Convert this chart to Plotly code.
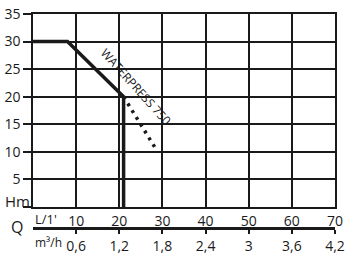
import plotly.graph_objects as go

# Data
flow_lmin = [0, 8, 21, 21]
head_m = [30, 30, 20, 0]
dot_flow = [21, 28.5]
dot_head = [20, 10.5]

x_ticks = [10, 20, 30, 40, 50, 60, 70]
x_tick_labels = ["10", "20", "30", "40", "50", "60", "70"]
y_ticks = [0, 5, 10, 15, 20, 25, 30, 35]
y_tick_labels = ["", "5", "10", "15", "20", "25", "30", "35"]
m3h_ticks = [0.6, 1.2, 1.8, 2.4, 3.0, 3.6, 4.2]
m3h_labels = ["0,6", "1,2", "1,8", "2,4", "3", "3,6", "4,2"]

FONT = "Open Sans"
INK = "#1a1a1a"

fig = go.Figure()
fig.add_trace(go.Scatter(x=flow_lmin, y=head_m, mode="lines",
                         line=dict(color=INK, width=3.5), hoverinfo="skip"))
fig.add_trace(go.Scatter(x=dot_flow, y=dot_head, mode="lines",
                         line=dict(color=INK, width=3.5, dash="3px,5px"), hoverinfo="skip"))
fig.add_trace(go.Scatter(x=m3h_ticks, y=[None] * len(m3h_ticks), xaxis="x2", yaxis="y",
                         mode="lines", showlegend=False, hoverinfo="skip"))

H = 256
t, b = 14, 20
ph = H - t - b
def py(p):
    return (H - b - p) / ph

fig.update_layout(
    width=352, height=256,
    margin=dict(l=33, r=17, t=t, b=b, autoexpand=False),
    paper_bgcolor="white", plot_bgcolor="white",
    showlegend=False,
    font=dict(family=FONT, color=INK, size=14),
    xaxis=dict(range=[0, 70], tickvals=x_ticks, ticktext=x_tick_labels,
               showgrid=True, gridcolor=INK, gridwidth=1.5,
               showline=True, linecolor=INK, linewidth=1.5, mirror=True,
               ticks="", zeroline=False, anchor="y", automargin=False,
               ticklabelstandoff=0,
               tickfont=dict(size=14, family=FONT)),
    xaxis2=dict(range=[0, 4.2], tickvals=m3h_ticks, ticktext=m3h_labels,
                overlaying="x", anchor="free", position=py(228), side="bottom",
                showgrid=False, showline=True, linecolor=INK, linewidth=3,
                ticks="outside", ticklen=4, tickwidth=1.5, tickcolor=INK,
                zeroline=False, automargin=False,
                tickfont=dict(size=14, family=FONT)),
    yaxis=dict(range=[0, 35], tickvals=y_ticks, ticktext=y_tick_labels,
               domain=[py(207), 1], automargin=False,
               showgrid=True, gridcolor=INK, gridwidth=1.5,
               showline=True, linecolor=INK, linewidth=1.5, mirror=True,
               ticks="outside", ticklen=8, tickwidth=1.5, tickcolor=INK,
               zeroline=False, tickfont=dict(size=14, family=FONT)),
)

def ann(text, x, y, size, xanchor="center", xref="paper", angle=0, yref="paper"):
    fig.add_annotation(text=text, x=x, y=y, xref=xref, yref=yref, showarrow=False,
                       xanchor=xanchor, yanchor="middle", textangle=angle,
                       font=dict(size=size, family=FONT, color=INK))

ann("Hm", (17 - 33) / 302, py(201), 15)
ann("Q", (17 - 33) / 302, py(227), 16)
ann("L/1'", 0, py(219), 13, xanchor="left", xref="x")
ann("m³/h", 0, py(243), 12, xanchor="left", xref="x")
ann("WATERPRESS 750", 23.8, 21.8, 12, xref="x", yref="y", angle=48)

fig.write_html("out.html")
